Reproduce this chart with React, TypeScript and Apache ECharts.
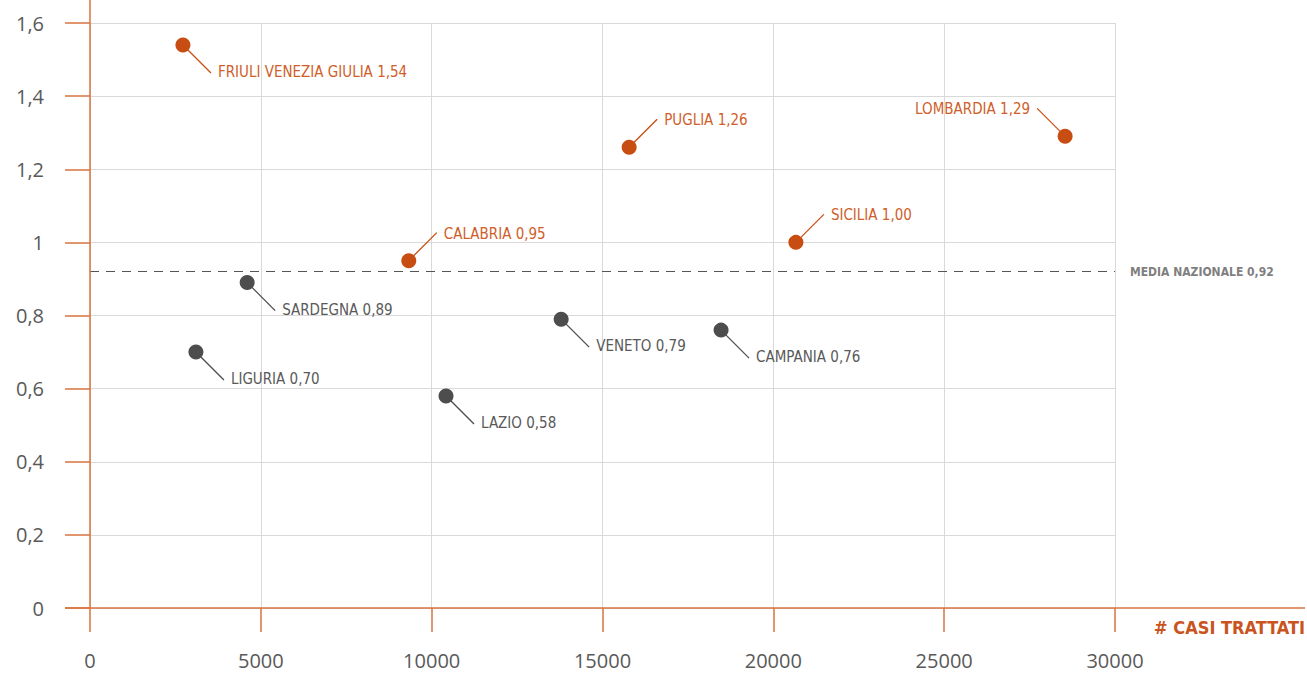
import React, { useEffect, useRef } from "react";
import * as echarts from "echarts";

const regions = [
  "Friuli Venezia Giulia",
  "Liguria",
  "Sardegna",
  "Calabria",
  "Lazio",
  "Veneto",
  "Puglia",
  "Campania",
  "Sicilia",
  "Lombardia",
];
const casiTrattati = [2720, 3100, 4600, 9330, 10420, 13790, 15780, 18470, 20660, 28540];
const indice = [1.54, 0.7, 0.89, 0.95, 0.58, 0.79, 1.26, 0.76, 1.0, 1.29];
const labelDir = ["br", "br", "br", "tr", "br", "br", "tr", "br", "tr", "tl"];
const mediaNazionale = 0.92;
const xTicks = { min: 0, max: 30000, interval: 5000 };
const yTicks = { min: 0, max: 1.6, interval: 0.2 };

const ORANGE_DOT = "#C84D12";
const ORANGE_TXT = "#CF5E2A";
const ORANGE_AXIS = "#D9733F";
const GRAY_DOT = "#4D4D4D";
const GRAY_TXT = "#595959";
const LABEL_FONT = "'Liberation Sans Narrow', 'DejaVu Sans Condensed', 'Roboto', sans-serif";
const TICK_FONT = "'Open Sans', 'Noto Sans', sans-serif";

const fmt = (v: number, d: number) => v.toFixed(d).replace(".", ",");

export default function App() {
  const ref = useRef<HTMLDivElement>(null);
  useEffect(() => {
    if (!ref.current) return;
    const chart = echarts.init(ref.current, null, { renderer: "svg" });
    const GL = 90, GR = 192, GT = 23, GB = 70;
    const W = 1307, H = 678;
    const data = regions.map((r, i) => [casiTrattati[i], indice[i]]);
    const isHigh = (i: number) => indice[i] > mediaNazionale;
    chart.setOption({
      animation: false,
      backgroundColor: "#fff",
      grid: { left: GL, right: GR, top: GT, bottom: GB },
      xAxis: {
        type: "value",
        min: xTicks.min,
        max: xTicks.max,
        interval: xTicks.interval,
        axisLine: { show: false },
        axisTick: { show: true, length: 24, lineStyle: { color: ORANGE_AXIS, width: 1.5 } },
        axisLabel: {
          margin: 42,
          color: GRAY_TXT,
          fontSize: 20,
          fontFamily: TICK_FONT,
          formatter: (v: number) => String(v),
        },
        splitLine: { show: true, lineStyle: { color: "#D9D9D9", width: 1 } },
      },
      yAxis: {
        type: "value",
        min: yTicks.min,
        max: yTicks.max,
        interval: yTicks.interval,
        axisLine: { show: false },
        axisTick: { show: true, length: 25, lineStyle: { color: ORANGE_AXIS, width: 1.5 } },
        axisLabel: {
          margin: 46,
          color: GRAY_TXT,
          fontSize: 20,
          fontFamily: TICK_FONT,
          formatter: (v: number) => String(Math.round(v * 10) / 10).replace(".", ","),
        },
        splitLine: { show: true, lineStyle: { color: "#D9D9D9", width: 1 } },
      },
      graphic: [
        {
          type: "line",
          z: 10,
          shape: { x1: GL, y1: 0, x2: GL, y2: H - GB },
          style: { stroke: ORANGE_AXIS, lineWidth: 1.5 },
        },
        {
          type: "line",
          z: 10,
          shape: { x1: GL - 25, y1: H - GB, x2: W - 2, y2: H - GB },
          style: { stroke: ORANGE_AXIS, lineWidth: 1.5 },
        },
        {
          type: "text",
          right: 2,
          top: H - GB + 10,
          style: {
            text: "# CASI TRATTATI",
            fill: "#C9541E",
            fontSize: 18,
            fontWeight: "bold",
            fontFamily: LABEL_FONT,
          },
        },
      ],
      series: [
        {
          type: "custom",
          z: 2,
          silent: true,
          data,
          renderItem: (params: any, api: any) => {
            const i = params.dataIndex;
            const p = api.coord([api.value(0), api.value(1)]);
            const dir = labelDir[i];
            const sx = dir === "tl" ? -1 : 1;
            const sy = dir === "br" ? 1 : -1;
            const col = isHigh(i) ? ORANGE_DOT : GRAY_DOT;
            return {
              type: "group",
              children: [
                {
                  type: "line",
                  shape: { x1: p[0], y1: p[1], x2: p[0] + sx * 28, y2: p[1] + sy * 28 },
                  style: { stroke: col, lineWidth: 1.3 },
                },
                {
                  type: "text",
                  x: p[0] + sx * 35,
                  y: p[1] + sy * 27,
                  style: {
                    text: regions[i].toUpperCase() + " " + fmt(indice[i], 2),
                    fill: isHigh(i) ? ORANGE_TXT : GRAY_TXT,
                    fontSize: 15,
                    fontFamily: LABEL_FONT,
                    align: sx > 0 ? "left" : "right",
                    verticalAlign: "middle",
                  },
                },
              ],
            };
          },
        },
        {
          type: "scatter",
          z: 5,
          symbolSize: 15,
          data,
          itemStyle: {
            opacity: 1,
            color: (p: any) => (isHigh(p.dataIndex) ? ORANGE_DOT : GRAY_DOT),
          },
          markLine: {
            silent: true,
            symbol: ["none", "none"],
            lineStyle: { color: "#555", width: 1, type: [9, 7] },
            label: {
              show: true,
              position: "end",
              distance: 15,
              formatter: "MEDIA NAZIONALE " + fmt(mediaNazionale, 2),
              color: "#7F7F7F",
              fontSize: 12,
              fontWeight: "bold",
              fontFamily: LABEL_FONT,
            },
            data: [{ yAxis: mediaNazionale }],
          },
        },
      ],
    });
    return () => chart.dispose();
  }, []);
  return (
    <div
      ref={ref}
      style={{ position: "fixed", left: 0, top: 0, width: 1307, height: 678 }}
    />
  );
}
